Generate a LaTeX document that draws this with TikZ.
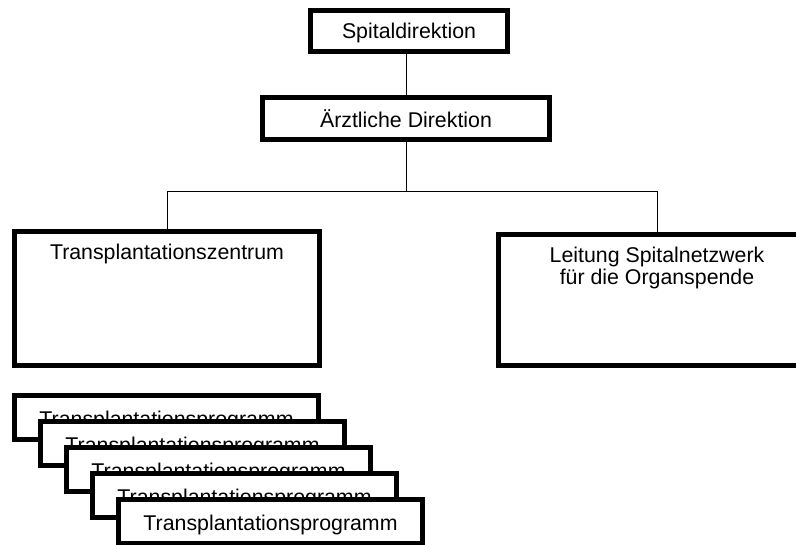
\documentclass[tikz,border=0pt]{standalone}
\usepackage{fontspec}
\setmainfont{Liberation Sans}
\usetikzlibrary{positioning}

\tikzset{
  orgbox/.style={draw, line width=3.75pt, fill=white, inner sep=0pt,
                 text height=12pt, text depth=0pt},
  orgline/.style={line width=0.75pt},
  toptext/.style={anchor=north, yshift=-11pt, inner sep=0pt, align=center},
}

\begin{document}
\begin{tikzpicture}[x=0.75pt, y=-0.75pt, font=\fontsize{16pt}{16.5pt}\selectfont]
  \useasboundingbox (0,0) rectangle (796,545);

  % Leitung
  \node[orgbox, minimum width=147.75pt, minimum height=30.75pt] (spital) at (409,31) {Spitaldirektion};
  \node[orgbox, minimum width=215.25pt, minimum height=31.5pt, text height=14pt] (aerztl) at (406,118.5) {Ärztliche Direktion};

  % Bereiche
  \node[orgbox, minimum width=228.75pt, minimum height=100.5pt,
        label={[toptext]north:Transplantationszentrum}] (zentrum) at (167,298.5) {};
  \node[orgbox, minimum width=237.75pt, minimum height=98.25pt,
        label={[toptext]north:Leitung Spitalnetzwerk\\für die Organspende}] (netzwerk) at (657,300) {};

  % Programme, gestaffelt
  \foreach \i in {1,...,5}
    \node[orgbox, minimum width=228pt, minimum height=33pt, text height=14pt]
      (prog\i) at ({140.5+26*\i},{391.5+26*\i}) {Transplantationsprogramm};

  % Verbindungen
  \coordinate (split) at (406,192);
  \draw[orgline] (aerztl.north) -- (aerztl.north |- spital.south);
  \draw[orgline] (aerztl) -- (split);
  \draw[orgline] (split) -| (zentrum);
  \draw[orgline] (split) -| (netzwerk);
\end{tikzpicture}
\end{document}
